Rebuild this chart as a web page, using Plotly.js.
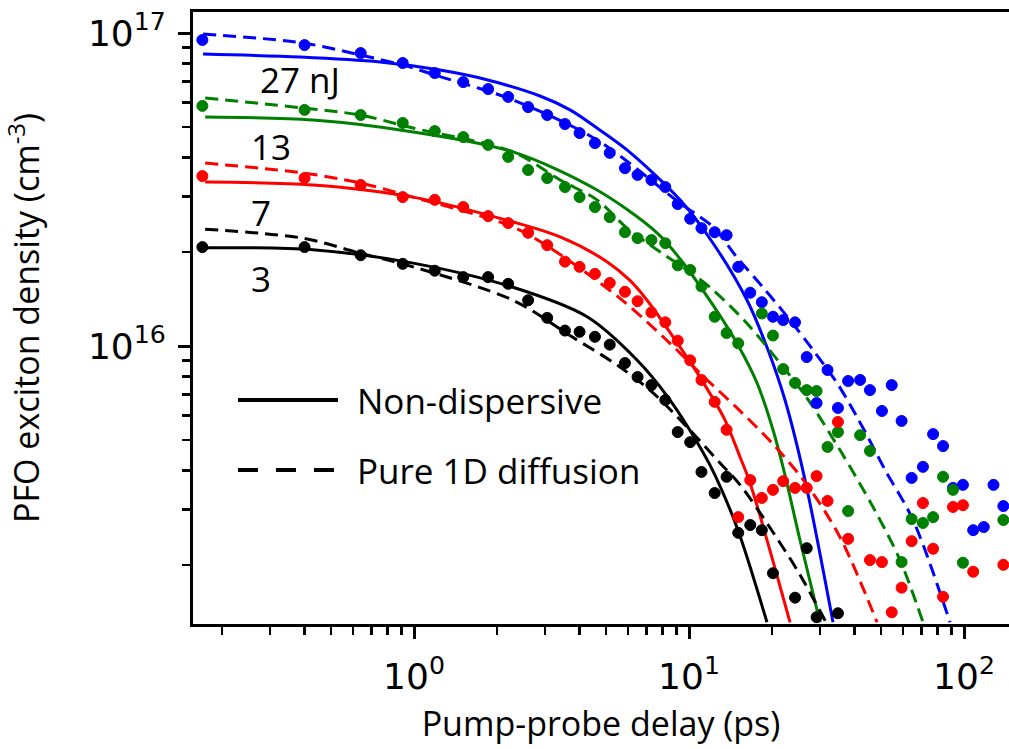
<!DOCTYPE html>
<html>
<head>
<meta charset="utf-8">
<script src="https://cdn.plot.ly/plotly-3.0.1.min.js"></script>
<style>
html,body{margin:0;padding:0;background:#fff;overflow:hidden}
#chart{width:1009px;height:749px}
</style>
</head>
<body>
<div id="chart"></div>
<script>
// Pump-probe delay times (ps) of the measured points
const delays = [0.17, 0.4, 0.64, 0.91, 1.19, 1.51, 1.86, 2.2, 2.6, 3.05, 3.54, 4.0, 4.55, 5.15, 5.85, 6.5, 7.3, 8.2, 9.1, 10.1,
  11.1, 12.4, 13.7, 15.1, 16.7, 18.4, 20.2, 22.0, 24.3, 26.8, 29.1, 31.9, 34.8, 37.9, 41.9, 45.5, 50.3, 54.6, 59.3, 64.5,
  70.9, 77.2, 83.9, 91.2, 99.1, 108, 118, 128, 139];

// Measured exciton densities (cm^-3)
const data27nJ = [9.5e16, 9.15e16, 8.63e16, 8.02e16, 7.45e16, 6.97e16, 6.62e16, 6.25e16, 5.80e16, 5.47e16,
  5.12e16, 4.79e16, 4.45e16, 4.14e16, 3.70e16, 3.52e16, 3.39e16, 3.22e16, 2.84e16, 2.55e16,
  2.38e16, 2.31e16, 2.26e16, 1.79e16, 1.48e16, 1.38e16, 1.24e16, 1.21e16, 1.19e16, 9.22e15,
  6.57e15, 8.38e15, 6.34e15, 7.73e15, 7.79e15, 7.23e15, 6.2e15, 7.5e15, 5.76e15, 3.79e15,
  4.11e15, 5.23e15, 4.79e15, 3.52e15, 3.60e15, 2.58e15, 2.64e15, 3.60e15, 3.08e15];
const data13nJ = [5.85e16, 5.68e16, 5.47e16, 5.16e16, 4.86e16, 4.65e16, 4.39e16, 4.02e16, 3.65e16, 3.44e16,
  3.22e16, 2.99e16, 2.78e16, 2.58e16, 2.31e16, 2.21e16, 2.18e16, 2.13e16, 1.81e16, 1.75e16,
  1.55e16, 1.24e16, 1.10e16, 1.02e16, null, 1.27e16, 1.08e16, 8.44e15, 7.62e15, 7.23e15,
  7.18e15, 4.76e15, 5.31e15, 2.97e15, 5.19e15, 4.62e15, null, null, 2.04e15, 2.80e15,
  2.72e15, 2.84e15, 3.82e15, 3.47e15, 2.03e15, null, null, null, 2.78e15];
const data7nJ = [3.49e16, 3.44e16, 3.27e16, 2.99e16, 2.93e16, 2.78e16, 2.60e16, 2.47e16, 2.30e16, 2.10e16,
  1.86e16, 1.79e16, 1.70e16, 1.59e16, 1.49e16, 1.39e16, 1.28e16, 1.19e16, 1.04e16, 9.0e15,
  7.79e15, 6.63e15, 5.4e15, 2.84e15, 3.73e15, 3.27e15, 3.47e15, 3.70e15, 3.52e15, 3.52e15,
  3.84e15, 3.20e15, 5.72e15, 2.42e15, null, 2.07e15, 2.04e15, 1.41e15, 1.69e15, 2.38e15,
  3.15e15, 2.25e15, 1.58e15, 3.06e15, 3.10e15, 1.90e15, null, null, 2.0e15];
const data3nJ = [2.07e16, 2.07e16, 1.95e16, 1.83e16, 1.74e16, 1.66e16, 1.66e16, 1.58e16, 1.40e16, 1.23e16,
  1.12e16, 1.11e16, 1.07e16, 1.01e16, 8.82e15, 7.96e15, 7.5e15, 6.72e15, 5.31e15, 4.93e15,
  3.96e15, 3.39e15, 3.82e15, 2.53e15, 2.68e15, 2.58e15, 1.88e15, null, 1.57e15, 2.26e15,
  1.36e15, null, 1.40e15, null, null, null, null, null, null, null,
  null, null, null, null, null, null, null, null, null];

// Non-dispersive model curves (solid)
const solid27T = [0.171, 0.385, 0.752, 1.243, 1.738, 2.872, 3.692, 4.63, 5.95, 9.27, 12.23, 16.26, 19.38, 22.34, 26.42, 33.39];
const solid27N = [8.57e16, 8.38e16, 8.08e16, 7.62e16, 7.18e16, 6.29e16, 5.68e16, 4.97e16, 4.23e16, 2.93e16, 2.13e16, 1.40e16, 9.71e15, 6.72e15, 3.73e15, 1.31e15];
const solid13T = [0.174, 0.429, 0.992, 2.291, 4.63, 7.65, 9.27, 12.23, 14.94, 17.67, 20.21, 22.34, 25.32, 29.95];
const solid13N = [5.39e16, 5.27e16, 4.83e16, 4.17e16, 3.15e16, 2.30e16, 1.90e16, 1.35e16, 1.02e16, 7.62e15, 5.39e15, 3.87e15, 2.40e15, 1.31e15];
const solid7T = [0.174, 0.429, 0.992, 2.291, 3.40, 5.03, 6.10, 7.04, 9.27, 11.24, 13.52, 15.33, 16.67, 23.30];
const solid7N = [3.34e16, 3.27e16, 2.99e16, 2.49e16, 2.23e16, 1.86e16, 1.62e16, 1.40e16, 9.93e15, 7.67e15, 5.80e15, 4.42e15, 3.65e15, 1.31e15];
const solid3T = [0.174, 0.429, 0.992, 2.291, 4.26, 6.47, 8.53, 11.24, 12.43, 15.07, 19.21];
const solid3N = [2.06e16, 2.03e16, 1.84e16, 1.54e16, 1.24e16, 9.02e15, 6.72e15, 4.58e15, 3.87e15, 2.58e15, 1.31e15];

// Pure 1D diffusion model curves (dashed)
const dash27T = [0.171, 0.395, 0.636, 0.912, 1.192, 2.291, 4.63, 9.27, 12.23, 14.94, 18.58, 23.30, 28.24, 34.53, 40.82, 46.68, 51.6, 65.25, 88.95];
const dash27N = [9.93e16, 9.29e16, 8.51e16, 7.90e16, 7.34e16, 6.11e16, 4.55e16, 2.86e16, 2.40e16, 1.92e16, 1.54e16, 1.21e16, 9.71e15, 7.62e15, 5.93e15, 4.76e15, 4.02e15, 2.78e15, 1.31e15];
const dash13T = [0.174, 0.395, 0.636, 0.992, 2.291, 3.40, 4.63, 5.95, 7.84, 9.83, 12.23, 16.26, 21.42, 26.86, 35.41, 46.68, 58.53, 70.95];
const dash13N = [6.20e16, 5.76e16, 5.47e16, 4.97e16, 4.17e16, 3.39e16, 2.93e16, 2.38e16, 2.00e16, 1.75e16, 1.51e16, 1.18e16, 8.82e15, 6.82e15, 4.65e15, 3.06e15, 2.07e15, 1.31e15];
const dash7T = [0.174, 0.395, 0.636, 0.992, 2.291, 3.20, 5.61, 8.53, 11.24, 14.94, 20.21, 26.86, 35.41, 48.27];
const dash7N = [3.84e16, 3.57e16, 3.32e16, 2.99e16, 2.40e16, 2.03e16, 1.42e16, 1.02e16, 8.02e15, 6.34e15, 4.86e15, 3.60e15, 2.45e15, 1.31e15];
const dash3T = [0.174, 0.395, 0.636, 0.992, 2.291, 3.692, 5.61, 7.40, 9.83, 12.96, 15.33, 20.21, 25.32, 31.49];
const dash3N = [2.36e16, 2.21e16, 1.98e16, 1.79e16, 1.40e16, 1.08e16, 8.57e15, 7.08e15, 5.51e15, 4.23e15, 3.60e15, 2.54e15, 1.86e15, 1.31e15];

// Axis ticks
const xMajor = [1, 10, 100];
const xLabels = ['10<sup>0</sup>', '10<sup>1</sup>', '10<sup>2</sup>'];
const xMinor = [0.2, 0.3, 0.4, 0.5, 0.6, 0.7, 0.8, 0.9, 2, 3, 4, 5, 6, 7, 8, 9, 20, 30, 40, 50, 60, 70, 80, 90];
const yMajor = [1e16, 1e17];
const yLabels = ['10<sup>16</sup>', '10<sup>17</sup>'];
const yMinor = [2e15, 3e15, 4e15, 5e15, 6e15, 7e15, 8e15, 9e15, 2e16, 3e16, 4e16, 5e16, 6e16, 7e16, 8e16, 9e16];

// Series labels
const pulseLabels = ['27 nJ', '13', '7', '3'];
const legendLabels = ['Non-dispersive', 'Pure 1D diffusion'];

const BLUE = '#0000ff', GREEN = '#008000', RED = '#ff0000', BLACK = '#000000';
const DASH = '13px,7px';

const series = [
  {pts: data27nJ, sT: solid27T, sN: solid27N, dT: dash27T, dN: dash27N, color: BLUE, name: pulseLabels[0]},
  {pts: data13nJ, sT: solid13T, sN: solid13N, dT: dash13T, dN: dash13N, color: GREEN, name: pulseLabels[1]},
  {pts: data7nJ, sT: solid7T, sN: solid7N, dT: dash7T, dN: dash7N, color: RED, name: pulseLabels[2]},
  {pts: data3nJ, sT: solid3T, sN: solid3N, dT: dash3T, dN: dash3N, color: BLACK, name: pulseLabels[3]}
];

const traces = [];
series.forEach(s => {
  traces.push({x: s.sT, y: s.sN, type: 'scatter', mode: 'lines', name: s.name + ' ' + legendLabels[0],
    line: {color: s.color, width: 3, shape: 'spline', smoothing: 0.9}, hoverinfo: 'skip'});
  traces.push({x: s.dT, y: s.dN, type: 'scatter', mode: 'lines', name: s.name + ' ' + legendLabels[1],
    line: {color: s.color, width: 3, dash: DASH, shape: 'spline', smoothing: 0.9}, hoverinfo: 'skip'});
});
series.forEach(s => {
  traces.push({x: delays, y: s.pts, type: 'scatter', mode: 'markers', name: s.name + ' data',
    marker: {color: s.color, size: 11, symbol: 'circle', line: {color: s.color, width: 1}}});
});

const tickFont = {family: 'DejaVu Sans', size: 36, color: '#000'};
const textFont = {family: 'Open Sans', size: 35, color: '#000'};
const titleFont = {family: 'Open Sans', size: 34, color: '#000'};

const layout = {
  width: 1009, height: 749,
  margin: {l: 193, r: 0, t: 12, b: 125},
  paper_bgcolor: '#fff', plot_bgcolor: '#fff',
  showlegend: false,
  xaxis: {
    type: 'log', range: [-0.8036, 2.1636], autorange: false,
    showline: true, linecolor: '#000', linewidth: 3, mirror: true,
    showgrid: false, zeroline: false,
    ticks: 'outside', ticklen: 12, tickwidth: 3, tickcolor: '#000',
    tickmode: 'array', tickvals: xMajor, ticktext: xLabels, tickfont: tickFont, ticklabelstandoff: 7,
    minor: {tickmode: 'array', tickvals: xMinor, ticks: 'outside', ticklen: 8, tickwidth: 2.5, tickcolor: '#000', showgrid: false},
    title: {text: 'Pump-probe delay (ps)', font: titleFont, standoff: 16},
    automargin: false
  },
  yaxis: {
    type: 'log', range: [15.1118, 17.0671], autorange: false,
    showline: true, linecolor: '#000', linewidth: 3,
    showgrid: false, zeroline: false,
    ticks: 'outside', ticklen: 12, tickwidth: 3, tickcolor: '#000',
    tickmode: 'array', tickvals: yMajor, ticktext: yLabels, tickfont: tickFont, ticklabelstandoff: 5,
    minor: {tickmode: 'array', tickvals: yMinor, ticks: 'outside', ticklen: 8, tickwidth: 2.5, tickcolor: '#000', showgrid: false},
    title: {text: 'PFO exciton density (cm<sup>-3</sup>)', font: titleFont, standoff: 40},
    automargin: false
  },
  annotations: [
    {text: pulseLabels[0], xref: 'paper', yref: 'paper', x: 0.1311, y: 0.8889, showarrow: false, font: textFont, xanchor: 'center', yanchor: 'middle'},
    {text: pulseLabels[1], xref: 'paper', yref: 'paper', x: 0.0956, y: 0.781, showarrow: false, font: textFont, xanchor: 'center', yanchor: 'middle'},
    {text: pulseLabels[2], xref: 'paper', yref: 'paper', x: 0.0833, y: 0.673, showarrow: false, font: textFont, xanchor: 'center', yanchor: 'middle'},
    {text: pulseLabels[3], xref: 'paper', yref: 'paper', x: 0.0833, y: 0.565, showarrow: false, font: textFont, xanchor: 'center', yanchor: 'middle'},
    {text: legendLabels[0], xref: 'paper', yref: 'paper', x: 0.1985, y: 0.366, showarrow: false, font: textFont, xanchor: 'left', yanchor: 'middle'},
    {text: legendLabels[1], xref: 'paper', yref: 'paper', x: 0.1985, y: 0.2516, showarrow: false, font: textFont, xanchor: 'left', yanchor: 'middle'}
  ],
  shapes: [
    {type: 'line', xref: 'paper', yref: 'paper', x0: 0.0551, x1: 0.1777, y0: 0.366, y1: 0.366, line: {color: '#000', width: 4}},
    {type: 'line', xref: 'paper', yref: 'paper', x0: 0.0551, x1: 0.1777, y0: 0.2516, y1: 0.2516, line: {color: '#000', width: 4, dash: '20px,18px'}}
  ]
};

Plotly.newPlot('chart', traces, layout, {staticPlot: true, displayModeBar: false});
</script>
</body>
</html>
